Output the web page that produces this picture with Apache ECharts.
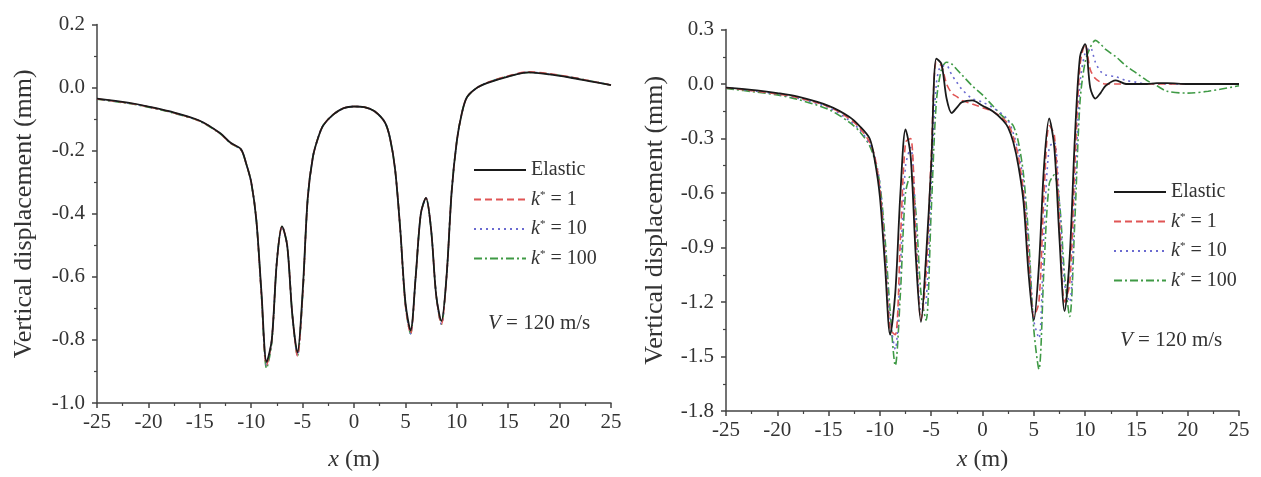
<!DOCTYPE html>
<html>
<head>
<meta charset="utf-8">
<script src="https://cdn.jsdelivr.net/npm/echarts@6/dist/echarts.min.js"></script>
<style>
  html, body { margin: 0; padding: 0; background: #fff; }
  #chart { width: 1261px; height: 477px; }
</style>
</head>
<body>
<div id="chart"></div>
<script>
// left panel: all four curves nearly overlap
const xLeft = [-25, -22, -20, -18, -15, -13, -12, -11, -10.5, -10, -9.5, -9, -8.5, -8, -7.5, -7, -6.5, -6, -5.5, -5,
  -4.5, -4, -3.5, -3, -2, -1, 0, 1, 2, 3, 3.5, 4, 4.5, 5, 5.5, 6, 6.5, 7, 7.5, 8, 8.5, 9, 9.5, 10, 10.5, 11, 12, 13,
  15, 17, 19, 21, 23, 25]
const leftElastic = [-0.035, -0.048, -0.06, -0.075, -0.105, -0.145, -0.175, -0.195, -0.24, -0.3, -0.42, -0.65, -0.87, -0.8, -0.55, -0.44, -0.5, -0.72, -0.84, -0.65,
  -0.35, -0.22, -0.16, -0.12, -0.085, -0.065, -0.06, -0.062, -0.075, -0.11, -0.16, -0.26, -0.45, -0.68, -0.77, -0.6, -0.4, -0.35, -0.45, -0.66, -0.74, -0.6, -0.33, -0.17, -0.08, -0.03, 0, 0.015,
  0.035, 0.048, 0.042, 0.032, 0.02, 0.008]
const leftK1 = [-0.036, -0.049, -0.061, -0.076, -0.106, -0.146, -0.176, -0.196, -0.24, -0.3, -0.42, -0.66, -0.88, -0.8, -0.55, -0.44, -0.5, -0.72, -0.85, -0.66,
  -0.35, -0.22, -0.16, -0.12, -0.085, -0.065, -0.06, -0.062, -0.075, -0.11, -0.16, -0.26, -0.45, -0.69, -0.78, -0.6, -0.4, -0.35, -0.45, -0.66, -0.75, -0.6, -0.33, -0.17, -0.08, -0.03, 0, 0.016,
  0.037, 0.05, 0.044, 0.034, 0.021, 0.008]
const leftK10 = [-0.036, -0.049, -0.061, -0.076, -0.106, -0.146, -0.176, -0.196, -0.24, -0.3, -0.42, -0.66, -0.88, -0.8, -0.55, -0.44, -0.5, -0.72, -0.85, -0.66,
  -0.35, -0.22, -0.16, -0.12, -0.085, -0.065, -0.06, -0.062, -0.075, -0.11, -0.16, -0.26, -0.45, -0.69, -0.78, -0.6, -0.4, -0.35, -0.45, -0.66, -0.75, -0.6, -0.33, -0.17, -0.08, -0.03, 0, 0.016,
  0.036, 0.049, 0.043, 0.033, 0.021, 0.008]
const leftK100 = [-0.037, -0.05, -0.062, -0.077, -0.107, -0.147, -0.177, -0.197, -0.24, -0.3, -0.42, -0.66, -0.89, -0.81, -0.55, -0.44, -0.5, -0.72, -0.85, -0.66,
  -0.35, -0.22, -0.16, -0.12, -0.085, -0.065, -0.06, -0.062, -0.075, -0.11, -0.16, -0.26, -0.45, -0.69, -0.78, -0.6, -0.4, -0.35, -0.45, -0.66, -0.75, -0.6, -0.33, -0.17, -0.08, -0.03, 0, 0.016,
  0.036, 0.048, 0.043, 0.033, 0.021, 0.008]

// right panel
const xRight = [-25, -22, -20, -18, -15, -13, -12, -11, -10.5, -10, -9.5, -9, -8.5, -8, -7.5, -7, -6.5, -6, -5.5, -5,
  -4.5, -4, -3.5, -3, -2.5, -2, -1, 0, 1, 2, 2.5, 3, 3.5, 4, 4.5, 5, 5.5, 6, 6.5, 7, 7.5, 8, 8.5, 9, 9.5, 10, 10.5,
  11, 11.5, 12, 13, 14, 15, 16, 17, 18, 20, 22, 25]
const rightElastic = [-0.02, -0.035, -0.05, -0.07, -0.12, -0.18, -0.23, -0.3, -0.42, -0.62, -1.0, -1.38, -1.15, -0.6, -0.25, -0.4, -0.95, -1.31, -0.95, -0.45,
  0.14, 0.11, -0.08, -0.16, -0.13, -0.1, -0.09, -0.12, -0.15, -0.2, -0.24, -0.32, -0.45, -0.65, -1.05, -1.3, -1.0, -0.45, -0.19, -0.35, -0.85, -1.25, -0.95, -0.3, 0.15, 0.22, -0.02,
  -0.08, -0.05, -0.01, 0.02, 0, 0, 0, 0.005, 0.005, 0, 0, 0]
const rightK1 = [-0.02, -0.04, -0.055, -0.075, -0.125, -0.19, -0.24, -0.32, -0.4, -0.58, -0.95, -1.35, -1.38, -0.85, -0.32, -0.3, -0.85, -1.3, -1.05, -0.4,
  0.12, 0.1, 0, -0.05, -0.07, -0.09, -0.11, -0.13, -0.15, -0.19, -0.22, -0.29, -0.4, -0.6, -0.95, -1.28, -1.2, -0.6, -0.23, -0.28, -0.75, -1.2, -1.1, -0.45, 0.1, 0.22, 0.08,
  0.03, 0.01, 0, 0, 0, 0, 0, 0, 0, 0, 0, 0]
const rightK10 = [-0.02, -0.04, -0.055, -0.078, -0.13, -0.2, -0.25, -0.33, -0.4, -0.55, -0.9, -1.3, -1.46, -1.0, -0.45, -0.35, -0.75, -1.25, -1.2, -0.55,
  0, 0.1, 0.1, 0.05, 0.01, -0.03, -0.08, -0.1, -0.13, -0.17, -0.2, -0.27, -0.37, -0.55, -0.9, -1.3, -1.4, -0.8, -0.35, -0.32, -0.65, -1.1, -1.2, -0.6, 0, 0.17, 0.2,
  0.12, 0.07, 0.05, 0.04, 0.02, 0.01, 0, 0, 0, 0, 0, 0]
const rightK100 = [-0.025, -0.045, -0.06, -0.085, -0.14, -0.21, -0.26, -0.34, -0.42, -0.55, -0.85, -1.25, -1.55, -1.15, -0.6, -0.5, -0.7, -1.15, -1.3, -0.7,
  -0.1, 0.08, 0.12, 0.11, 0.08, 0.05, -0.01, -0.06, -0.12, -0.18, -0.2, -0.23, -0.32, -0.5, -0.85, -1.35, -1.57, -1.0, -0.55, -0.5, -0.65, -1.05, -1.28, -0.75, -0.1, 0.12, 0.2,
  0.24, 0.22, 0.19, 0.15, 0.1, 0.06, 0.02, -0.01, -0.04, -0.05, -0.04, -0.01]

const names = ['Elastic', 'k* = 1', 'k* = 10', 'k* = 100']
const colors = ['#1a1a1a', '#e05555', '#6a6ad0', '#3f9a45']
const dashes = ['solid', [7, 4], [2, 4], [8, 3, 2, 3]]

const font = "'Liberation Serif', 'Times New Roman', serif"
const textColor = '#333'

const zip = (xs, ys) => xs.map((x, i) => [x, ys[i]])

const chart = echarts.init(document.getElementById('chart'))

function xAxisFor (gridIndex, nameGap) {
  return {
    type: 'value',
    gridIndex,
    min: -25,
    max: 25,
    interval: 5,
    name: '{i|x} (m)',
    nameLocation: 'middle',
    nameGap,
    nameTextStyle: {
      fontFamily: font,
      fontSize: 24,
      color: textColor,
      rich: { i: { fontStyle: 'italic', fontFamily: font, fontSize: 24, color: textColor } }
    },
    axisLine: { onZero: false, lineStyle: { color: '#444', width: 1.5 } },
    axisTick: { inside: false, length: 5, lineStyle: { color: '#444', width: 1.5 } },
    minorTick: { show: true, splitNumber: 2, length: 3, lineStyle: { color: '#444', width: 1.2 } },
    splitLine: { show: false },
    axisLabel: { fontFamily: font, fontSize: 21, color: textColor, margin: 9 }
  }
}

function yAxisFor (gridIndex, min, max, interval, nameGap) {
  return {
    type: 'value',
    gridIndex,
    min,
    max,
    interval,
    name: 'Vertical displacement (mm)',
    nameLocation: 'middle',
    nameGap,
    nameTextStyle: { fontFamily: font, fontSize: 26, color: textColor },
    axisLine: { show: true, onZero: false, lineStyle: { color: '#444', width: 1.5 } },
    axisTick: { show: true, inside: false, length: 5, lineStyle: { color: '#444', width: 1.5 } },
    minorTick: { show: true, splitNumber: 2, length: 3, lineStyle: { color: '#444', width: 1.2 } },
    splitLine: { show: false },
    axisLabel: {
      fontFamily: font,
      fontSize: 21,
      color: textColor,
      margin: 12,
      formatter: v => v.toFixed(1)
    }
  }
}

function seriesFor (axisIndex, xs, ysList) {
  return ysList.map((ys, i) => ({
    name: names[i],
    type: 'line',
    xAxisIndex: axisIndex,
    yAxisIndex: axisIndex,
    data: zip(xs, ys),
    symbol: 'none',
    smooth: 0.3,
    z: 10 - i,
    lineStyle: { color: colors[i], width: i === 0 ? 1.8 : 1.6, type: dashes[i] },
    itemStyle: { color: colors[i] }
  }))
}

function legendFor (left, top) {
  return {
    orient: 'vertical',
    left,
    top,
    padding: 0,
    itemWidth: 52,
    itemHeight: 14,
    itemGap: 9.5,
    itemStyle: { opacity: 0 },
    data: names,
    formatter: name => name.replace('k*', '{i|k}{s|*}'),
    textStyle: {
      fontFamily: font,
      fontSize: 20,
      color: textColor,
      lineHeight: 20,
      rich: {
        i: { fontStyle: 'italic', fontFamily: font, fontSize: 20, color: textColor },
        s: { fontFamily: font, fontSize: 11, color: textColor, verticalAlign: 'top', lineHeight: 14 }
      }
    }
  }
}

function speedLabel (x, y) {
  return {
    type: 'text',
    left: x,
    top: y,
    style: {
      text: '{i|V} = 120 m/s',
      fontFamily: font,
      fontSize: 21,
      fill: textColor,
      rich: { i: { fontStyle: 'italic', fontFamily: font, fontSize: 21, color: textColor } }
    }
  }
}

const option = {
  animation: false,
  backgroundColor: '#fff',
  grid: [
    { left: 97, top: 24.5, width: 514, height: 380.5 },
    { left: 726, top: 29.5, width: 513, height: 382.5 }
  ],
  xAxis: [xAxisFor(0, 45), xAxisFor(1, 37)],
  yAxis: [yAxisFor(0, -1, 0.2, 0.2, 60), yAxisFor(1, -1.8, 0.3, 0.3, 58)],
  legend: [legendFor(473, 160), legendFor(1113, 182)],
  graphic: [speedLabel(488, 313), speedLabel(1120, 330)],
  series: [
    ...seriesFor(0, xLeft, [leftElastic, leftK1, leftK10, leftK100]),
    ...seriesFor(1, xRight, [rightElastic, rightK1, rightK10, rightK100])
  ]
}

chart.setOption(option)
</script>
</body>
</html>
